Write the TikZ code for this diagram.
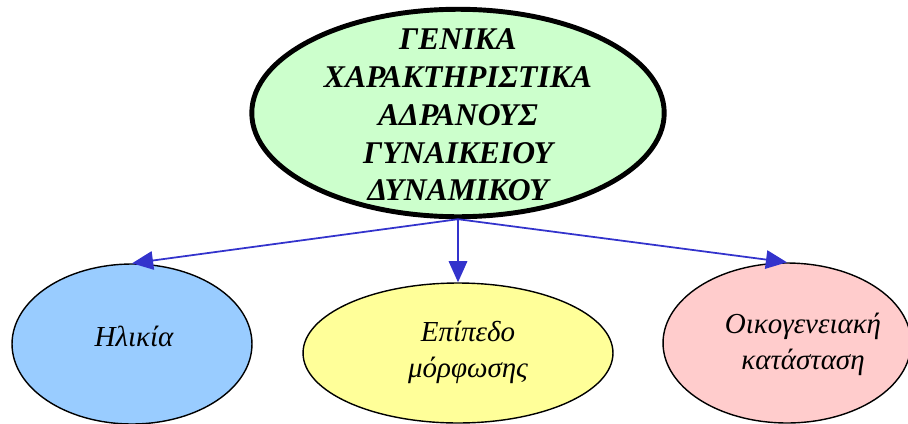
\documentclass[tikz,border=0pt]{standalone}
\usepackage{fontspec}
\setmainfont{Liberation Serif}
\usetikzlibrary{shapes.geometric,arrows.meta}
\definecolor{linkcolor}{RGB}{51,51,204}
\definecolor{topfill}{RGB}{204,255,204}
\definecolor{agefill}{RGB}{153,204,255}
\definecolor{edufill}{RGB}{255,255,153}
\definecolor{famfill}{RGB}{255,204,204}
\newcommand{\topfont}{\fontsize{18}{21.5}\selectfont\bfseries\itshape}
\newcommand{\subfont}{\fontsize{16.5}{20.5}\selectfont\itshape}

\begin{document}
\begin{tikzpicture}[x=0.02cm,y=-0.02cm,
  bubble/.style={ellipse,draw,line width=0.8pt,inner sep=0pt},
  caption/.style={align=center,inner sep=0pt,font=\subfont},
  link/.style={linkcolor,line width=1pt,-{Triangle[length=12pt,width=10.5pt]}}]
\useasboundingbox (0,0) rectangle (908,423);
% ellipses
\node[bubble,fill=topfill,line width=2.8pt,minimum width=8.25cm,minimum height=4.15cm] (top) at (458,113) {};
\node[bubble,fill=agefill,minimum width=4.8cm,minimum height=3.2cm] (age) at (132,344) {};
\node[bubble,fill=edufill,minimum width=6.2cm,minimum height=2.8cm] (edu) at (458,353) {};
\node[bubble,fill=famfill,minimum width=4.96cm,minimum height=3.2cm] (fam) at (787,343) {};
% texts
\node[caption,font=\topfont] (toptext) at (458,115) {ΓΕΝΙΚΑ\\ ΧΑΡΑΚΤΗΡΙΣΤΙΚΑ\\ ΑΔΡΑΝΟΥΣ\\ ΓΥΝΑΙΚΕΙΟΥ\\ ΔΥΝΑΜΙΚΟΥ};
\node[caption] (agetext) at (134,336) {Ηλικία};
\node[caption] (edutext) at (468,352) {Επίπεδο\\ μόρφωσης};
\node[caption] (famtext) at (803,344) {Οικογενειακή\\ κατάσταση};
% arrows
\draw[link] (top.south) -- (age.north);
\draw[link] (top.south) -- (edu.north);
\draw[link] (top.south) -- (fam.north);
\end{tikzpicture}
\end{document}
